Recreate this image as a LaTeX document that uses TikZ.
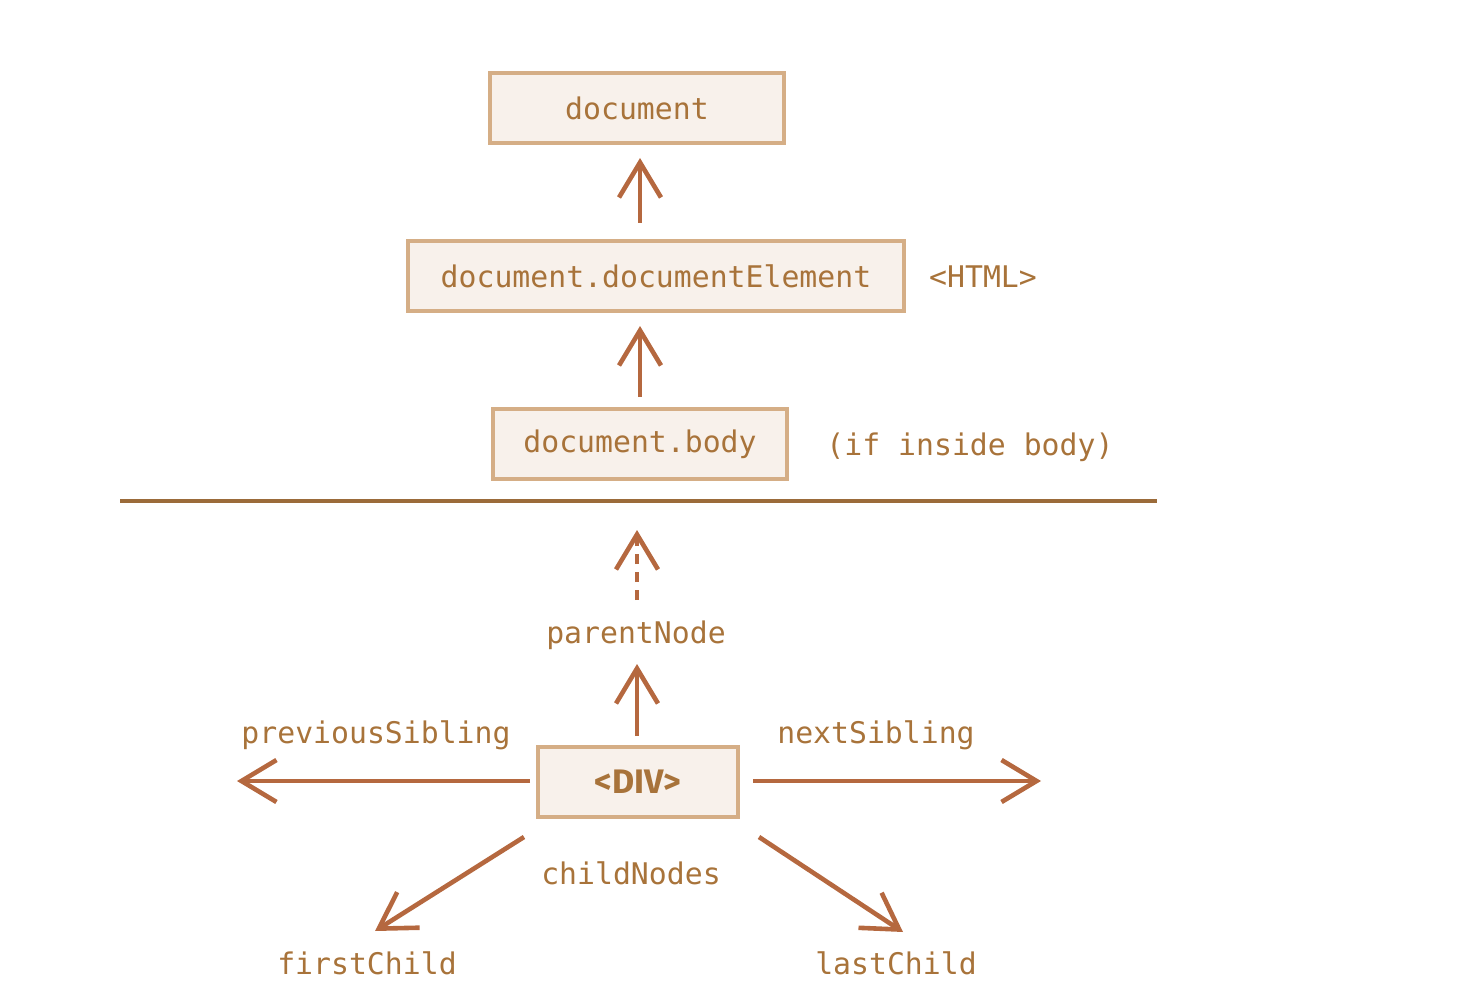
\documentclass[tikz,border=0pt]{standalone}
\usepackage{fontspec}
\setmonofont{DejaVu Sans Mono}
\newfontfamily\divfont{Fira Sans}
\usetikzlibrary{arrows.meta}
\definecolor{boxborder}{HTML}{D5AE86}
\definecolor{boxfill}{HTML}{F8F1EB}
\definecolor{txt}{HTML}{A8733A}
\definecolor{arr}{HTML}{B5683F}
\definecolor{rule}{HTML}{9B6B3A}
\begin{document}
\begin{tikzpicture}[x=0.5pt,y=-0.5pt,
  box/.style={draw=boxborder, fill=boxfill, line width=2.3pt, inner sep=0pt, text=txt,
    font=\ttfamily\fontsize{14.9}{16}\selectfont},
  lbl/.style={text=txt, inner sep=0pt, font=\ttfamily\fontsize{14.9}{16}\selectfont},
  arrow/.style={draw=arr, line width=2.3pt, -{Straight Barb[length=17.5pt,width=21pt,line width=2.3pt]}}
]
\useasboundingbox (0,0) rectangle (1480,1006);
\node[box, minimum width=147pt, minimum height=35pt] (doc) at (637,108) {document};
\node[box, minimum width=248pt, minimum height=35pt] (de) at (656,276) {document.documentElement};
\node[lbl] (html) at (983,277) {<HTML>};
\node[box, minimum width=147pt, minimum height=35pt] (body) at (640,444) {document.body};
\node[lbl] (ifb) at (970,447) {(if inside body)};
\coordinate (rl) at (120,501);
\coordinate (rr) at (1157,501);
\draw[rule, line width=2pt] (rl) -- (rr);
\node[box, minimum width=100pt, minimum height=35pt, font=\divfont\bfseries\fontsize{17}{18}\selectfont] (div) at (638,782) {<DIV>};
\node[lbl] (pn) at (636,635) {parentNode};
\node[lbl] (ps) at (376,735) {previousSibling};
\node[lbl] (ns) at (876,735) {nextSibling};
\node[lbl] (cn) at (631,873) {childNodes};
\node[lbl] (fc) at (367,963) {firstChild};
\node[lbl] (lc) at (896,963) {lastChild};
% connectors
\coordinate (a1s) at (640,223); \coordinate (a1e) at (640,158);
\draw[arrow] (a1s) -- (a1e);
\coordinate (a2s) at (640,397); \coordinate (a2e) at (640,326);
\draw[arrow] (a2s) -- (a2e);
\coordinate (a3s) at (637,600); \coordinate (a3e) at (637,530);
\draw[arrow, dash pattern=on 5pt off 4pt] (a3s) -- (a3e);
\coordinate (a4s) at (637,736); \coordinate (a4e) at (637,664);
\draw[arrow] (a4s) -- (a4e);
\coordinate (a5s) at (530,781); \coordinate (a5e) at (237,781);
\draw[arrow] (a5s) -- (a5e);
\coordinate (a6s) at (753,781); \coordinate (a6e) at (1041,781);
\draw[arrow] (a6s) -- (a6e);
\coordinate (a7s) at (524,837); \coordinate (a7e) at (375,931);
\draw[arrow] (a7s) -- (a7e);
\coordinate (a8s) at (759,837); \coordinate (a8e) at (903,932);
\draw[arrow] (a8s) -- (a8e);
\end{tikzpicture}
\end{document}
